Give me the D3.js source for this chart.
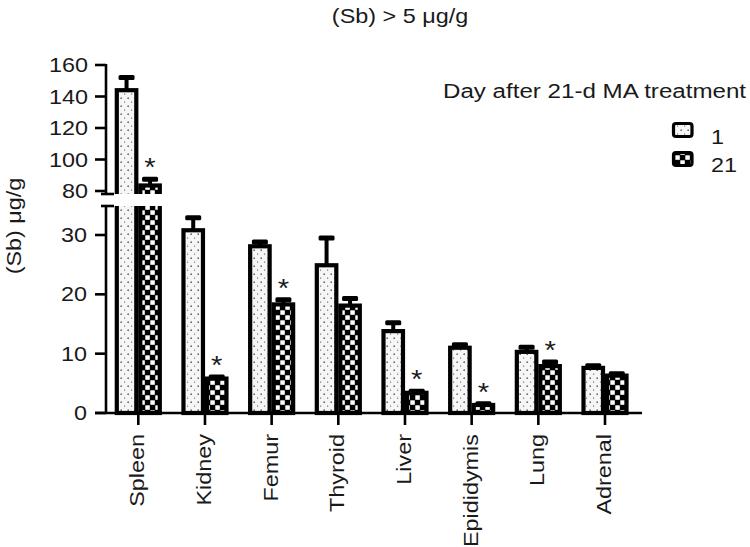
<!DOCTYPE html>
<html>
<head>
<meta charset="utf-8">
<script src="https://cdn.jsdelivr.net/npm/d3@7"></script>
<style>
  html, body { margin: 0; padding: 0; background: #fff; }
  svg { display: block; }
  text { font-family: "Liberation Sans", Arial, Helvetica, sans-serif; fill: #1a1a1a; }
</style>
</head>
<body>
<svg id="chart" width="750" height="547"></svg>
<script>
// ---- data ----
const categories = ["Spleen", "Kidney", "Femur", "Thyroid", "Liver", "Epididymis", "Lung", "Adrenal"];
const day1 = [144, 30.8, 28.1, 24.9, 13.8, 11.0, 10.3, 7.6];
const day1Err = [8, 2.1, 0.7, 4.6, 1.4, 0.5, 0.8, 0.35];
const day21 = [83.5, 5.8, 18.3, 18.1, 3.4, 1.35, 7.9, 6.3];
const day21Err = [4, 0.25, 0.8, 1.2, 0.25, 0.2, 0.7, 0.3];
const day21Sig = [true, true, true, false, true, true, true, false];
const upperTicks = [80, 100, 120, 140, 160];
const lowerTicks = [0, 10, 20, 30];
const seriesNames = ["1", "21"];
const titleText = "(Sb) > 5 \u03bcg/g";
const yLabelText = "(Sb) \u03bcg/g";
const legendTitle = "Day after 21-d MA treatment";

// ---- layout ----
const svg = d3.select("#chart");
const SX = 1.17; // horizontal text stretch of the original
const axisX = 106;
const baseY = 413;
const upperBottom = 194, lowerTop = 206;

const yUpper = d3.scaleLinear().domain([80, 160]).range([191, 65]);
const yLower = d3.scaleLinear().domain([0, 30]).range([baseY, 235]);
const x = d3.scalePoint().domain(categories).range([138.3, 605]);
const barW = 23.5;

// patterns
const defs = svg.append("defs");
const pDots = defs.append("pattern").attr("id", "dots").attr("patternUnits", "userSpaceOnUse")
  .attr("width", 7).attr("height", 8);
pDots.append("rect").attr("width", 7).attr("height", 8).attr("fill", "#f6f6f6");
pDots.append("rect").attr("x", 1.5).attr("y", 1.5).attr("width", 1.4).attr("height", 1.4).attr("fill", "#444");
pDots.append("rect").attr("x", 5).attr("y", 5.5).attr("width", 1.2).attr("height", 1.2).attr("fill", "#777");

const pChk = defs.append("pattern").attr("id", "chk").attr("patternUnits", "userSpaceOnUse")
  .attr("width", 10).attr("height", 10);
pChk.append("rect").attr("width", 10).attr("height", 10).attr("fill", "#000");
pChk.append("rect").attr("x", 0.3).attr("y", 0.3).attr("width", 4.5).attr("height", 4.5).attr("fill", "#fff");
pChk.append("rect").attr("x", 5.3).attr("y", 5.3).attr("width", 4.5).attr("height", 4.5).attr("fill", "#fff");

defs.append("clipPath").attr("id", "clipU").append("rect")
  .attr("x", 0).attr("y", 0).attr("width", 750).attr("height", upperBottom);
defs.append("clipPath").attr("id", "clipL").append("rect")
  .attr("x", 0).attr("y", lowerTop).attr("width", 750).attr("height", 547 - lowerTop);

// build bar records
const bars = [];
categories.forEach((c, i) => {
  bars.push({ cat: c, s: 0, v: day1[i], e: day1Err[i], sig: false });
  bars.push({ cat: c, s: 1, v: day21[i], e: day21Err[i], sig: day21Sig[i] });
});
const fills = ["url(#dots)", "url(#chk)"];
const barX = d => x(d.cat) + (d.s === 0 ? -barW : 0);

function drawPanel(g, yScale, filterFn) {
  const data = bars.filter(filterFn);
  data.forEach(d => {
    const cx = barX(d) + barW / 2;
    g.append("line").attr("x1", cx).attr("x2", cx)
      .attr("y1", yScale(d.v)).attr("y2", yScale(d.v + d.e))
      .attr("stroke", "#000").attr("stroke-width", 4);
    g.append("rect").attr("x", cx - 8).attr("y", yScale(d.v + d.e) - 2.5)
      .attr("width", 16).attr("height", 5).attr("rx", 1.5).attr("fill", "#000");
  });
  g.selectAll("rect.bar").data(data).join("rect").attr("class", "bar")
    .attr("x", d => barX(d) + 2)
    .attr("y", d => yScale(d.v))
    .attr("width", barW - 4)
    .attr("height", d => Math.max(0, baseY - yScale(d.v)))
    .attr("fill", d => fills[d.s])
    .attr("stroke", "#000").attr("stroke-width", 4.2);
}

const gU = svg.append("g").attr("clip-path", "url(#clipU)");
drawPanel(gU, yUpper, d => d.v > 35);
const gL = svg.append("g").attr("clip-path", "url(#clipL)");
drawPanel(gL, yLower, d => true);

// asterisks
bars.filter(d => d.sig).forEach(d => {
  const ys = d.v > 35 ? yUpper : yLower;
  const cx = barX(d) + barW / 2;
  svg.append("text").attr("transform", `translate(${cx},${ys(d.v + d.e) - 3}) scale(${SX},1)`)
    .attr("text-anchor", "middle").attr("font-size", 25).text("*");
});

// y axis segments
const axG = svg.append("g").attr("stroke", "#000").attr("stroke-width", 2.6);
axG.append("line").attr("x1", axisX).attr("x2", axisX).attr("y1", yUpper(160) - 1).attr("y2", upperBottom);
axG.append("line").attr("x1", axisX).attr("x2", axisX).attr("y1", lowerTop).attr("y2", baseY);
axG.append("line").attr("x1", 101).attr("x2", 114).attr("y1", upperBottom).attr("y2", upperBottom);
axG.append("line").attr("x1", 101).attr("x2", 114).attr("y1", lowerTop).attr("y2", lowerTop);
upperTicks.forEach(t => {
  axG.append("line").attr("x1", 95).attr("x2", axisX).attr("y1", yUpper(t)).attr("y2", yUpper(t));
});
lowerTicks.forEach(t => {
  axG.append("line").attr("x1", 95).attr("x2", axisX).attr("y1", yLower(t)).attr("y2", yLower(t));
});
axG.append("line").attr("x1", 95).attr("x2", 642).attr("y1", baseY).attr("y2", baseY);
categories.forEach(c => {
  axG.append("line").attr("x1", x(c)).attr("x2", x(c)).attr("y1", baseY).attr("y2", baseY + 12);
});

// tick labels
upperTicks.forEach(t => {
  svg.append("text").attr("transform", `translate(88,${yUpper(t) + 7}) scale(${SX},1)`)
    .attr("text-anchor", "end").attr("font-size", 20).text(t);
});
lowerTicks.forEach(t => {
  svg.append("text").attr("transform", `translate(87,${yLower(t) + 7}) scale(${SX},1)`)
    .attr("text-anchor", "end").attr("font-size", 20).text(t);
});
categories.forEach(c => {
  svg.append("text").attr("transform", `translate(${x(c) + 6},434) rotate(-90) scale(${SX},1)`)
    .attr("text-anchor", "end").attr("font-size", 20).text(c);
});

// axis title and chart title
svg.append("text").attr("transform", `translate(21,226) rotate(-90) scale(${SX},1)`)
  .attr("text-anchor", "middle").attr("font-size", 20).text(yLabelText);
svg.append("text").attr("transform", `translate(400,23) scale(${SX},1)`)
  .attr("text-anchor", "middle").attr("font-size", 20).text(titleText);

// legend
svg.append("text").attr("transform", `translate(443,98) scale(1.15,1)`)
  .attr("font-size", 21).text(legendTitle);
const legY = [122, 151];
const legTY = [144, 171.5];
seriesNames.forEach((n, i) => {
  svg.append("rect").attr("x", 673.5).attr("y", legY[i] + 1.5).attr("width", 18.5).attr("height", 13)
    .attr("rx", 2.5).attr("fill", fills[i]).attr("stroke", "#000").attr("stroke-width", 3.2);
  svg.append("text").attr("transform", `translate(711,${legTY[i]}) scale(${SX},1)`)
    .attr("font-size", 20).text(n);
});
</script>
</body>
</html>
